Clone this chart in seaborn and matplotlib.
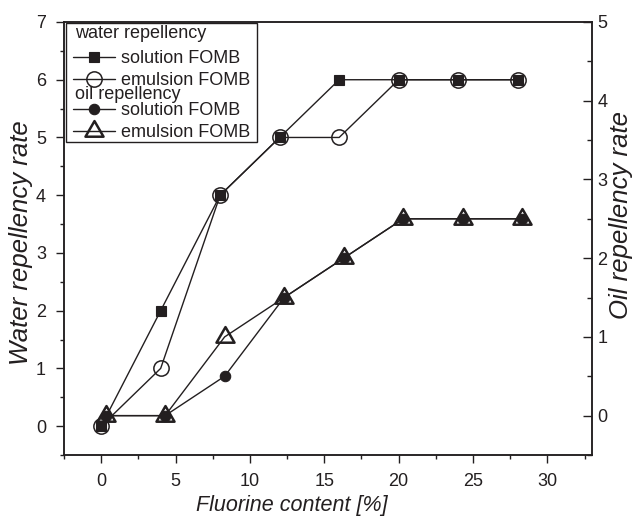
import matplotlib
matplotlib.use('Agg')
import matplotlib.pyplot as plt
import seaborn as sns
from matplotlib.ticker import MultipleLocator
from matplotlib.patches import Rectangle
from matplotlib.path import Path

# ---- data ----
fluorine_water = [0, 4, 8, 12, 16, 20, 24, 28]
water_solution = [0, 2, 4, 5, 6, 6, 6, 6]
water_emulsion = [0, 1, 4, 5, 5, 6, 6, 6]
fluorine_oil = [0.3, 4.3, 8.3, 12.3, 16.3, 20.3, 24.3, 28.3]
oil_solution = [0, 0, 0.5, 1.5, 2, 2.5, 2.5, 2.5]
oil_emulsion = [0, 0, 1, 1.5, 2, 2.5, 2.5, 2.5]
series_labels = ['solution FOMB', 'emulsion FOMB']
group_titles = ['water repellency', 'oil repellency']

INK = '#231f20'
sns.set_style('ticks')
plt.rcParams['font.family'] = ['Liberation Sans', 'DejaVu Sans']
plt.rcParams['axes.edgecolor'] = INK
plt.rcParams['axes.linewidth'] = 1.1

# equilateral triangle marker centred on its centroid
TRI = Path([(0, 1), (-0.866, -0.5), (0.866, -0.5), (0, 1)],
           [Path.MOVETO, Path.LINETO, Path.LINETO, Path.CLOSEPOLY])

W, H = 635, 517
fig = plt.figure(figsize=(W / 100, H / 100), dpi=100)
ax = fig.add_axes([64 / W, 1 - 455 / H, 528 / W, 433 / H])
ax2 = ax.twinx()

common = dict(color=INK, lw=1.0, estimator=None, legend=False)
sns.lineplot(x=fluorine_water, y=water_solution, ax=ax, marker='s', markersize=7,
             markerfacecolor=INK, markeredgecolor=INK, markeredgewidth=0.8, **common)
sns.lineplot(x=fluorine_water, y=water_emulsion, ax=ax, marker='o', markersize=11,
             markerfacecolor='none', markeredgecolor=INK, markeredgewidth=1.1, **common)
sns.lineplot(x=fluorine_oil, y=oil_solution, ax=ax2, marker='o', markersize=7.5,
             markerfacecolor=INK, markeredgecolor=INK, markeredgewidth=0.8, **common)
sns.lineplot(x=fluorine_oil, y=oil_emulsion, ax=ax2, marker=TRI, markersize=15,
             markerfacecolor='none', markeredgecolor=INK, markeredgewidth=1.8, **common)

ax.set_xlim(-2.5, 33)
ax.set_ylim(-0.5, 7)
ax2.set_ylim(-0.5, 5)

ax.xaxis.set_major_locator(MultipleLocator(5))
ax.xaxis.set_minor_locator(MultipleLocator(2.5))
ax.yaxis.set_major_locator(MultipleLocator(1))
ax.yaxis.set_minor_locator(MultipleLocator(0.5))
ax2.yaxis.set_major_locator(MultipleLocator(1))
ax2.yaxis.set_minor_locator(MultipleLocator(0.5))

ax.tick_params(which='both', direction='out', color=INK, labelcolor=INK, width=1.0,
               top=False, right=False, labelsize=13, pad=7)
ax.tick_params(which='major', length=6)
ax.tick_params(which='minor', length=3)
ax2.tick_params(which='both', direction='in', color=INK, labelcolor=INK, width=1.0,
                left=False, labelsize=13, pad=4)
ax2.tick_params(which='major', length=6.5)
ax2.tick_params(which='minor', length=3.5)
for a in (ax, ax2):
    for s in a.spines.values():
        s.set_visible(True)
        s.set_color(INK)
        s.set_linewidth(1.1)

ax.set_xlabel('Fluorine content [%]', fontsize=15.5, style='italic', color=INK)
ax.xaxis.set_label_coords((291.5 - 64) / 528, (455 - 495) / 433)
ax.set_ylabel('Water repellency rate', fontsize=18.5, style='italic', color=INK)
ax.yaxis.set_label_coords((33 - 64) / 528, (455 - 243) / 433)
ax2.set_ylabel('Oil repellency rate', fontsize=18.5, style='italic', color=INK)
ax2.yaxis.set_label_coords((609 - 64) / 528, (455 - 215) / 433)

# ---- legend ----
frame = Rectangle((66 / W, 1 - 142 / H), (257 - 66) / W, (142 - 23) / H,
                  transform=fig.transFigure, facecolor='white', edgecolor=INK,
                  lw=1.0, zorder=4, clip_on=False)
ax2.add_patch(frame)
leg_kw = dict(loc='upper left', frameon=False, fontsize=13, borderpad=0,
              labelspacing=0.3, handlelength=2.3, handletextpad=0.35,
              borderaxespad=0, bbox_transform=fig.transFigure)
leg1 = ax2.legend(handles=[ax.lines[0], ax.lines[1]], labels=series_labels,
                  bbox_to_anchor=(73 / W, 1 - 50 / H), **leg_kw)
leg1.set_zorder(5)
ax2.add_artist(leg1)
leg2 = ax2.legend(handles=[ax2.lines[0], ax2.lines[1]], labels=series_labels,
                  bbox_to_anchor=(73 / W, 1 - 102 / H), **leg_kw)
leg2.set_zorder(5)
for t in leg1.get_texts() + leg2.get_texts():
    t.set_color(INK)
ax2.text(75 / W, 1 - 33 / H, group_titles[0], transform=fig.transFigure,
         ha='left', va='center', fontsize=13, color=INK, zorder=6)
ax2.text(75 / W, 1 - 94 / H, group_titles[1], transform=fig.transFigure,
         ha='left', va='center', fontsize=13, color=INK, zorder=6)

fig.savefig('out.png', dpi=100)
